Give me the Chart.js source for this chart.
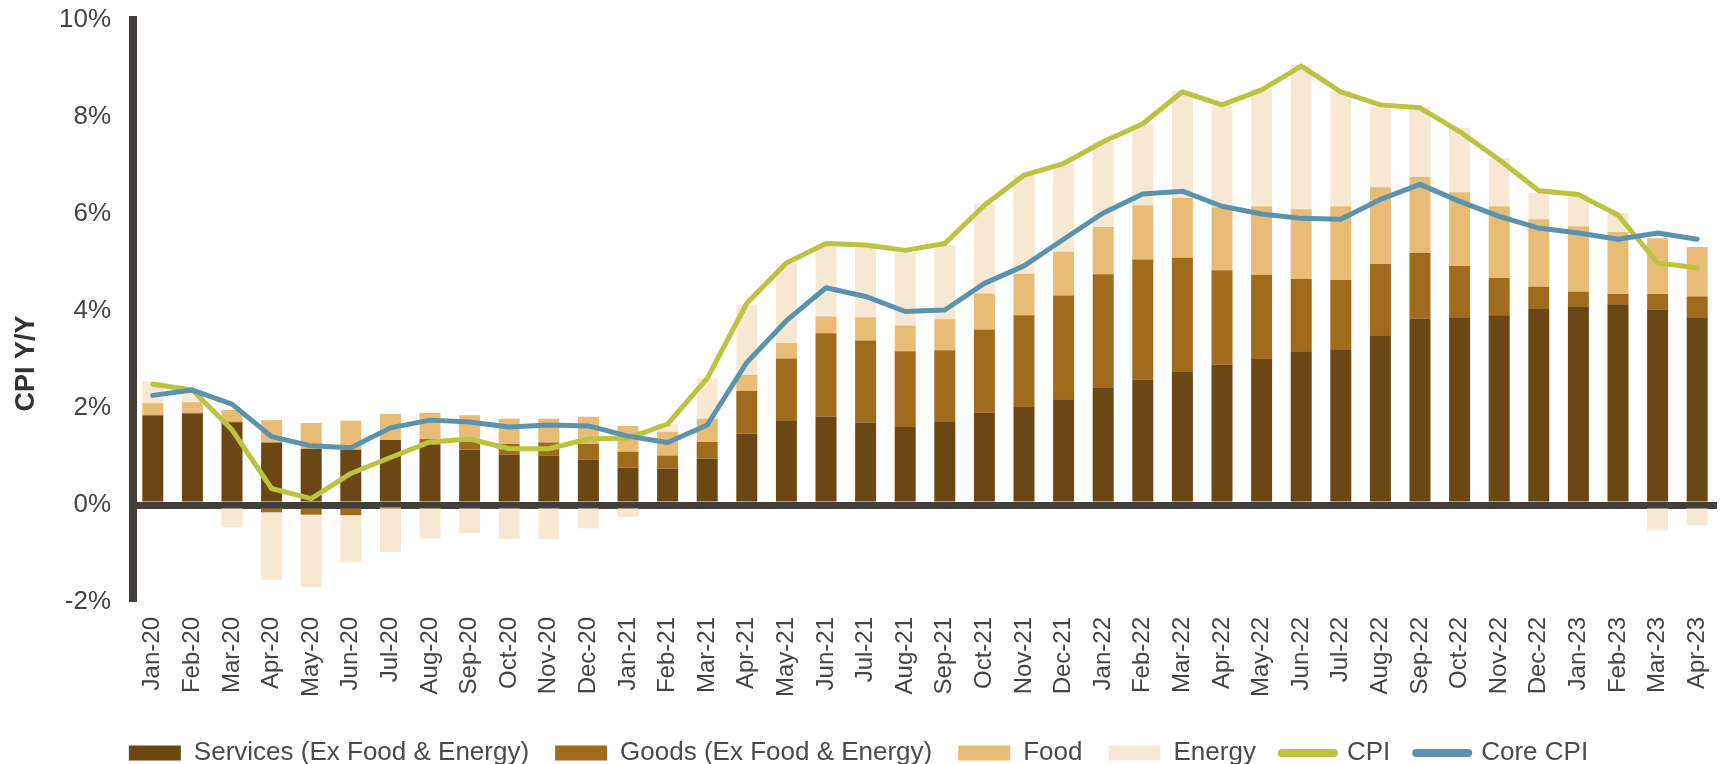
<!DOCTYPE html>
<html>
<head>
<meta charset="utf-8">
<title>CPI Y/Y contributions</title>
<script src="https://cdn.jsdelivr.net/npm/chart.js@4.4.1/dist/chart.umd.min.js"></script>
<style>
    html, body { margin: 0; padding: 0; background: #ffffff; }
    #wrap { width: 1723px; height: 764px; }
</style>
</head>
<body>
<div id="wrap"><canvas id="cpiChart" width="1723" height="764"></canvas></div>
<script>
// Months, Jan-20 .. Apr-23
const months = [
    'Jan-20', 'Feb-20', 'Mar-20', 'Apr-20', 'May-20', 'Jun-20', 'Jul-20', 'Aug-20', 'Sep-20', 'Oct-20', 'Nov-20', 'Dec-20',
    'Jan-21', 'Feb-21', 'Mar-21', 'Apr-21', 'May-21', 'Jun-21', 'Jul-21', 'Aug-21', 'Sep-21', 'Oct-21', 'Nov-21', 'Dec-21',
    'Jan-22', 'Feb-22', 'Mar-22', 'Apr-22', 'May-22', 'Jun-22', 'Jul-22', 'Aug-22', 'Sep-22', 'Oct-22', 'Nov-22', 'Dec-22',
    'Jan-23', 'Feb-23', 'Mar-23', 'Apr-23'
];

// Contributions to CPI Y/Y (percentage points)
const services = [
    1.84, 1.88, 1.69, 1.29, 1.16, 1.14, 1.34, 1.25, 1.14, 1.04, 1.02, 0.93,
    0.77, 0.75, 0.96, 1.47, 1.73, 1.82, 1.70, 1.61, 1.71, 1.90, 2.02, 2.18,
    2.41, 2.59, 2.74, 2.89, 3.01, 3.17, 3.21, 3.50, 3.84, 3.87, 3.91, 4.04,
    4.08, 4.14, 4.03, 3.87
];
const goods = [
    0.02, 0.02, 0.03, -0.15, -0.20, -0.21, -0.05, 0.11, 0.16, 0.22, 0.27, 0.33,
    0.33, 0.27, 0.34, 0.88, 1.29, 1.72, 1.69, 1.56, 1.48, 1.72, 1.89, 2.14,
    2.35, 2.47, 2.36, 1.95, 1.74, 1.49, 1.43, 1.47, 1.36, 1.06, 0.77, 0.46,
    0.32, 0.21, 0.32, 0.43
];
const food = [
    0.24, 0.22, 0.24, 0.46, 0.53, 0.60, 0.54, 0.54, 0.55, 0.52, 0.49, 0.56,
    0.53, 0.49, 0.48, 0.33, 0.32, 0.35, 0.48, 0.53, 0.64, 0.74, 0.86, 0.90,
    0.97, 1.12, 1.23, 1.30, 1.41, 1.44, 1.52, 1.58, 1.57, 1.52, 1.48, 1.39,
    1.35, 1.28, 1.15, 1.02
];
const energy = [
    0.45, 0.19, -0.46, -1.39, -1.49, -0.97, -0.92, -0.69, -0.58, -0.70, -0.71, -0.48,
    -0.25, 0.16, 0.83, 1.45, 1.64, 1.47, 1.45, 1.50, 1.53, 1.84, 2.03, 1.82,
    1.76, 1.66, 2.20, 2.11, 2.42, 2.97, 2.37, 1.65, 1.44, 1.33, 0.99, 0.54,
    0.65, 0.39, -0.52, -0.42
];

// Headline and core CPI Y/Y (%)
const cpi = [
    2.49, 2.37, 1.55, 0.34, 0.13, 0.65, 0.98, 1.30, 1.36, 1.16, 1.16, 1.36,
    1.38, 1.67, 2.61, 4.16, 4.99, 5.39, 5.36, 5.25, 5.39, 6.18, 6.80, 7.04,
    7.49, 7.86, 8.52, 8.25, 8.56, 9.05, 8.52, 8.25, 8.19, 7.70, 7.12, 6.48,
    6.40, 5.98, 4.99, 4.89
];
const coreCpi = [
    2.26, 2.37, 2.08, 1.41, 1.22, 1.18, 1.59, 1.75, 1.71, 1.61, 1.65, 1.63,
    1.42, 1.29, 1.65, 2.94, 3.80, 4.48, 4.30, 3.99, 4.02, 4.57, 4.93, 5.48,
    6.02, 6.41, 6.47, 6.16, 6.00, 5.91, 5.89, 6.30, 6.61, 6.26, 5.95, 5.71,
    5.61, 5.48, 5.61, 5.48
];

const yTicks = [-2, 0, 2, 4, 6, 8, 10];

const axisColor = '#423f3a';
const textColor = '#444444';

Chart.defaults.font.family = "'Liberation Sans', Arial, sans-serif";
Chart.defaults.color = textColor;

function barSet(label, data, color) {
    return {
        type: 'bar',
        label: label,
        data: data,
        backgroundColor: color,
        borderWidth: 0,
        stack: 'parts',
        barPercentage: 0.53,
        categoryPercentage: 1.0,
        order: 0
    };
}

function lineSet(label, data, color, order) {
    return {
        type: 'line',
        label: label,
        data: data,
        borderColor: color,
        backgroundColor: color,
        borderWidth: 5,
        pointRadius: 0,
        tension: 0,
        borderCapStyle: 'round',
        borderJoinStyle: 'round',
        stack: label,
        order: order
    };
}

const ctx = document.getElementById('cpiChart').getContext('2d');

new Chart(ctx, {
    data: {
        labels: months,
        datasets: [
            barSet('Services (Ex Food & Energy)', services, '#6b4713'),
            barSet('Goods (Ex Food & Energy)', goods, '#a06b1d'),
            barSet('Food', food, '#e8bb77'),
            barSet('Energy', energy, '#f6e8d3'),
            lineSet('CPI', cpi, '#bcc33f', -1),
            lineSet('Core CPI', coreCpi, '#5a93ae', -2)
        ]
    },
    options: {
        responsive: false,
        devicePixelRatio: 1,
        animation: false,
        layout: {
            padding: { left: 0, right: 6, top: 20, bottom: -12 }
        },
        plugins: {
            tooltip: { enabled: false },
            legend: {
                position: 'bottom',
                labels: {
                    font: { size: 26, lineHeight: 1.0 },
                    color: '#4a4a4a',
                    usePointStyle: true,
                    pointStyleWidth: 52,
                    boxHeight: 15,
                    padding: 26,
                    sort: (a, b) => a.datasetIndex - b.datasetIndex,
                    generateLabels: (chart) => {
                        return chart.data.datasets.map((ds, i) => {
                            const isLine = ds.type === 'line';
                            return {
                                text: ds.label,
                                datasetIndex: i,
                                fillStyle: isLine ? 'rgba(0,0,0,0)' : ds.backgroundColor,
                                strokeStyle: isLine ? ds.borderColor : ds.backgroundColor,
                                lineWidth: isLine ? 8 : 0,
                                lineCap: 'round',
                                pointStyle: isLine ? 'line' : 'rect',
                                fontColor: '#4a4a4a',
                                hidden: false
                            };
                        });
                    }
                }
            }
        },
        scales: {
            x: {
                stacked: true,
                grid: { display: false, drawTicks: false },
                border: { display: false },
                ticks: {
                    autoSkip: false,
                    minRotation: 90,
                    maxRotation: 90,
                    padding: 15,
                    font: { size: 24 },
                    color: textColor
                },
                afterFit: (scale) => {
                    scale.height = 112;
                    scale.paddingLeft = 0;
                    scale.paddingRight = 0;
                }
            },
            y: {
                stacked: true,
                min: -2,
                max: 10,
                z: 1,
                afterBuildTicks: (scale) => {
                    scale.ticks = yTicks.map(v => ({ value: v }));
                },
                afterFit: (scale) => {
                    scale.width = 133;
                    scale.paddingTop = 0;
                    scale.paddingBottom = 0;
                },
                grid: {
                    drawTicks: false,
                    color: (c) => (c.tick && c.tick.value === 0) ? axisColor : 'rgba(0,0,0,0)',
                    lineWidth: (c) => (c.tick && c.tick.value === 0) ? 7 : 0
                },
                border: { display: true, color: axisColor, width: 8 },
                ticks: {
                    padding: 22,
                    font: { size: 26 },
                    color: textColor,
                    callback: (v) => v + '%'
                },
                title: {
                    display: true,
                    // trailing spaces push the label below the axis middle, as in the source
                    text: 'CPI Y/Y              ',
                    font: { size: 27, weight: 'bold' },
                    color: '#333333',
                    padding: { top: 10, bottom: 0 }
                }
            }
        }
    }
});
</script>
</body>
</html>
